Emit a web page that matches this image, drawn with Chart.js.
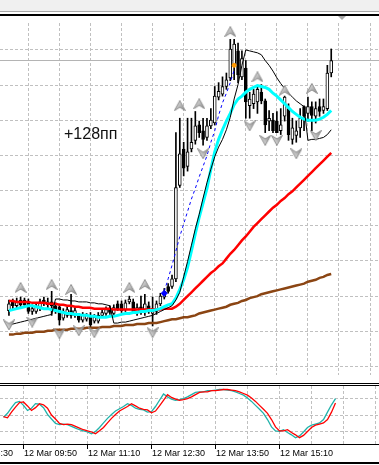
<!DOCTYPE html>
<html><head><meta charset="utf-8">
<script src="https://cdn.jsdelivr.net/npm/chart.js@4.4.1/dist/chart.umd.min.js"></script>
<style>
html,body{margin:0;padding:0;background:#fff;width:379px;height:465px;overflow:hidden;position:relative}
.abs{position:absolute;left:0}
#topbar{top:0;width:379px;height:11px;background:#f0f0f0}
#topline{top:11px;width:379px;height:1px;background:#a8a8a8}
#blk1{top:14px;width:379px;height:2px;background:#000}
#sep1{top:383px;width:379px;height:1px;background:#000}
#sep2{top:385px;width:379px;height:1px;background:#000}
#bot{top:462px;width:379px;height:2px;background:#000}
#main{top:16px}
#osc{top:386px}
#note{position:absolute;left:64px;top:126px;font:16px "Liberation Sans",Arial,sans-serif;line-height:16px;color:#111;white-space:nowrap}
#shift{position:absolute;left:338px;top:16px;width:0;height:0;border-left:4px solid transparent;border-right:4px solid transparent;border-top:4px solid #a8a8a8}
</style></head><body>
<div id="topbar" class="abs"></div><div id="topline" class="abs"></div><div id="blk1" class="abs"></div>
<canvas id="main" class="abs" width="379" height="366"></canvas>
<div id="sep1" class="abs"></div><div id="sep2" class="abs"></div>
<canvas id="osc" class="abs" width="379" height="79"></canvas>
<div id="bot" class="abs"></div>
<div id="note">+128пп</div>
<div id="shift"></div>
<script>
// ---- data (price in chart units, one value per 5-minute bar) ----
const barSlots = 94;               // bars incl. empty right shift
const firstBarTime = [9, 25];      // 12 Mar 09:25
const tickBars = [-11, 5, 21, 37, 53, 69];
const tickLabels = ['12 Mar 08:30', '12 Mar 09:50', '12 Mar 11:10', '12 Mar 12:30', '12 Mar 13:50', '12 Mar 15:10'];
const gridBars = [5, 13, 21, 29, 37, 45, 53, 61, 69, 77, 85, 93];
const priceGrid = [7, 43.6, 80.1, 116.7, 153.3, 189.8, 226.4, 262.9, 299.5, 336.0];
const levelLine = 325;
const oscLevels = [20, 50, 80];

const open = [65,74,70,76,76,74,64,64,67,76, 71,74,70,69,57,60,65,60,59,55, 56,60,54,54,60,62,67,62,72,72, 66,74,74,63,69,65,70,62,64,72,
  79,90,90,98,195,233,215,233,242,258, 252,245,257,260,287,290,298,307,320,335, 308,317,278,280,282,292,283,262,263,262,
  252,267,275,243,247,255,277,270,277,267, 277,273,275,312];
const high = [76,77,78,79,78,77,71,72,77,79, 78,85,73,71,67,69,82,68,62,63, 62,63,61,63,66,69,70,71,75,75, 76,80,77,72,80,82,74,79,75,83,
  88,93,102,250,265,240,265,265,272,262, 265,265,275,298,302,308,312,347,347,343, 335,325,292,295,298,300,285,273,270,272,
  275,288,280,265,262,275,278,287,282,282, 285,285,320,337];
const low = [60,67,68,69,68,62,61,62,65,70, 68,60,62,50,55,58,57,58,53,53, 54,48,52,52,58,60,61,60,65,63, 64,72,62,60,61,60,62,49,61,70,
  77,83,88,95,193,205,210,230,238,245, 237,242,254,258,284,288,295,304,305,302, 305,265,265,275,270,280,250,252,250,250,
  248,262,242,238,240,245,252,262,252,260, 267,270,273,308];
const close = [72,70,74,71,71,64,67,70,74,72, 74,70,65,55,64,66,60,65,55,60, 60,50,58,60,63,66,63,68,67,65, 73,77,64,68,63,72,65,67,72,80,
  83,85,98,193,228,213,230,240,257,250, 243,257,263,288,293,298,305,337,342,310, 327,282,285,290,295,283,258,265,252,250,
  258,287,248,255,252,265,267,277,268,275, 272,277,312,325];

const maRed = [75,75,74,74,74,74,73,73,73,73, 72,72,72,71,71,70,70,69,69,68, 68,68,67,67,67,67,67,66,66,66, 66,66,66,66,66,66,66,66,66,66,
  67,67,67,69,72,76,80,84,88,92, 96,100,104,107,111,114,119,124,128,133, 138,142,147,152,156,160,164,168,172,175,
  179,182,186,189,193,197,201,205,209,213, 217,221,225,229];
const maBrown = [40,40,41,41,42,42,42,43,43,43, 44,44,45,45,45,45,46,46,46,46, 47,47,47,47,48,48,48,49,49,49, 50,50,50,51,51,51,52,52,52,53,
  54,55,56,56,57,58,58,59,60,62, 63,64,65,66,67,68,69,71,72,73, 75,76,78,79,80,82,83,84,85,86,
  87,88,89,90,91,92,93,95,96,97, 99,100,102,103];
const maCyan = [65,66,67,68,69,70,70,69,68,67, 67,66,65,64,63,62,62,61,61,60, 60,59,59,58,58,58,59,59,60,61, 62,62,63,63,64,64,65,65,66,67,
  69,71,72,78,87,97,110,127,145,162, 177,192,212,230,243,253,262,270,279,285, 288,292,295,297,299,298,297,295,291,288,
  284,280,276,272,269,266,264,263,263,263, 264,266,269,273];
const trendLine = [50,51,52,53,54,55,56,57,58,59, 60,61,77,77,76,76,75,75,74,74, 74,73,73,72,72,71,70,52,52,53, 53,54,55,56,57,58,59,60,62,64,
  66,68,70,76,84,100,116,133,150,165, 182,198,212,225,235,243,253,266,285,300, 320,336,335,334,333,331,325,320,314,307,
  301,296,291,287,283,280,277,242,243,243, 244,245,248,253];
const blueStart = 40;
const blueLine = [85,98,112,127,142,155,168,181,192,204,215,226,240,252,268,281,291,302,315];

const fractalUpBars = [3,11,16,31,35,44,49,57,64,71,78];
const fractalUpVals = [89,92,87,89,92,278,280,355,308,294,296];
const fractalDnBars = [0,6,13,18,22,37,50,62,66,69,74,79];
const fractalDnVals = [50,53,41,44,42,42,228,257,242,242,228,247];
const blueMarkBar = 40, blueMarkVal = 83;
const orangeMarkBar = 58, orangeMarkVal = 320;

const stochMain = [46,53,63,72,74,67,58,62,70,69, 63,51,43,35,33,34,33,30,27,24, 22,20,17,21,28,36,44,51,57,61, 65,70,67,62,60,59,55,56,65,76,
  87,82,78,76,77,79,82,86,90,91, 91,93,93,94,95,95,94,93,91,88, 85,80,74,67,60,53,42,29,22,21,
  24,19,15,10,13,20,28,32,34,36, 42,55,68,79];
const stochSignal = [47,45,55,64,72,73,66,58,63,70, 68,62,50,43,35,33,34,33,30,27, 24,22,20,17,22,28,36,44,51,57, 61,65,70,66,62,60,59,54,57,66,
  76,86,81,78,76,77,79,82,86,90, 91,91,93,93,94,95,95,94,93,91, 88,85,80,74,67,60,53,42,29,22,
  22,24,19,15,10,14,21,28,32,34, 36,42,55,71];

// ---- helpers ----
const barTimes = [];
for (let i = 0; i < barSlots; i++) {
  const m = firstBarTime[0] * 60 + firstBarTime[1] + 5 * i;
  barTimes.push(String(Math.floor(m / 60) % 24).padStart(2, '0') + ':' + String(m % 60).padStart(2, '0'));
}
const sparse = (bars, vals) => { const a = new Array(barSlots).fill(null); bars.forEach((b, i) => a[b] = vals[i]); return a; };
const bodies = open.map((o, i) => [o, close[i]]);
const wicks = low.map((l, i) => [l, high[i]]);
const bodyColors = open.map((o, i) => close[i] >= o ? '#ffffff' : '#000000');
const blueData = new Array(blueStart).fill(null).concat(blueLine);

function makeArrow(up) {
  const c = document.createElement('canvas'); c.width = 12; c.height = 11;
  const g = c.getContext('2d');
  if (!up) { g.translate(0, 11); g.scale(1, -1); }
  const grd = g.createLinearGradient(0, 0, 12, 11);
  grd.addColorStop(0, '#f6f6f6'); grd.addColorStop(0.5, '#bdbdbd'); grd.addColorStop(1, '#7c7c7c');
  g.beginPath(); g.moveTo(6, 0.5); g.lineTo(11.5, 10.5); g.lineTo(6, 7); g.lineTo(0.5, 10.5); g.closePath();
  g.fillStyle = grd; g.fill();
  g.strokeStyle = '#8e8e8e'; g.lineWidth = 1; g.stroke();
  return c;
}
const upImg = makeArrow(true), dnImg = makeArrow(false);

const GRID = '#c0c0c0';
function drawVGrid(chart) {
  const {ctx, chartArea: a, scales: {x}} = chart;
  ctx.save(); ctx.strokeStyle = GRID; ctx.lineWidth = 1; ctx.setLineDash([3, 2]);
  ctx.beginPath();
  gridBars.forEach(k => { const px = Math.floor(x.getPixelForValue(k)) + 0.5; ctx.moveTo(px, a.top); ctx.lineTo(px, a.bottom); });
  ctx.stroke(); ctx.restore();
}
function drawHGrid(chart, vals) {
  const {ctx, chartArea: a, scales: {y}} = chart;
  ctx.save(); ctx.strokeStyle = GRID; ctx.lineWidth = 1; ctx.setLineDash([3, 2]);
  ctx.beginPath();
  vals.forEach(v => { const py = Math.floor(y.getPixelForValue(v)) + 0.5; ctx.moveTo(0, py); ctx.lineTo(chart.width, py); });
  ctx.stroke(); ctx.restore();
}
const mainGrid = {
  id: 'mainGrid',
  beforeDatasetsDraw(chart) {
    drawVGrid(chart); drawHGrid(chart, priceGrid);
    const {ctx, scales: {y}} = chart;
    const py = Math.floor(y.getPixelForValue(levelLine)) + 0.5;
    ctx.save(); ctx.strokeStyle = '#b4b4b4'; ctx.lineWidth = 1;
    ctx.beginPath(); ctx.moveTo(0, py); ctx.lineTo(chart.width, py); ctx.stroke(); ctx.restore();
  }
};
const oscGrid = {
  id: 'oscGrid',
  beforeDatasetsDraw(chart) { drawVGrid(chart); drawHGrid(chart, oscLevels); },
  afterDraw(chart) {
    const {ctx, chartArea: a, scales: {x}} = chart;
    ctx.save();
    ctx.strokeStyle = '#000'; ctx.lineWidth = 1;
    ctx.beginPath(); ctx.moveTo(0, a.bottom + 0.5); ctx.lineTo(chart.width, a.bottom + 0.5);
    tickBars.forEach(k => { const px = Math.floor(x.getPixelForValue(k)) + 0.5; ctx.moveTo(px, a.bottom); ctx.lineTo(px, a.bottom + 5); });
    ctx.stroke();
    ctx.fillStyle = '#000'; ctx.font = '9px "Liberation Sans", Arial, sans-serif';
    ctx.textAlign = 'left'; ctx.textBaseline = 'middle';
    tickBars.forEach((k, i) => { const px = Math.floor(x.getPixelForValue(k)) + 1; ctx.fillText(tickLabels[i], px, a.bottom + 10); });
    ctx.restore();
  }
};

const common = {
  responsive: false, animation: false, events: [],
  plugins: {legend: {display: false}, tooltip: {enabled: false}}
};

new Chart(document.getElementById('main'), {
  type: 'bar',
  data: {
    labels: barTimes,
    datasets: [
      {type: 'line', data: sparse(fractalUpBars, fractalUpVals), showLine: false, pointStyle: upImg, pointRadius: 6, order: 0},
      {type: 'line', data: sparse(fractalDnBars, fractalDnVals), showLine: false, pointStyle: dnImg, pointRadius: 6, order: 0},
      {type: 'line', data: sparse([blueMarkBar], [blueMarkVal]), showLine: false, pointStyle: 'rectRot', pointRadius: 3, backgroundColor: '#0000ff', borderColor: '#0000ff', order: 0},
      {type: 'line', data: sparse([orangeMarkBar], [orangeMarkVal]), showLine: false, pointStyle: 'circle', pointRadius: 2, backgroundColor: '#ff9900', borderColor: '#ff9900', order: 0},
      {type: 'line', data: blueData, borderColor: '#0000ff', borderWidth: 1, borderDash: [3, 3], pointRadius: 0, tension: 0, order: 1},
      {type: 'line', data: trendLine, borderColor: '#000000', borderWidth: 1, pointRadius: 0, tension: 0, order: 2},
      {type: 'line', data: maCyan, borderColor: '#00ffff', borderWidth: 3, pointRadius: 0, tension: 0, order: 3},
      {type: 'line', data: maRed, borderColor: '#ff0000', borderWidth: 2.5, pointRadius: 0, tension: 0, order: 4},
      {type: 'line', data: maBrown, borderColor: '#8b4513', borderWidth: 2.5, pointRadius: 0, tension: 0, order: 5},
      {type: 'bar', data: bodies, backgroundColor: bodyColors, borderColor: '#000', borderWidth: 1, borderSkipped: false, barThickness: 3, grouped: false, order: 10},
      {type: 'bar', data: wicks, backgroundColor: '#000', borderWidth: 0, barThickness: 1, grouped: false, order: 11}
    ]
  },
  options: Object.assign({}, common, {
    layout: {padding: {left: 1.5, right: 1.5, top: 0, bottom: 0}},
    scales: {
      x: {type: 'category', offset: true, display: false},
      y: {min: -2, max: 364, display: false}
    }
  }),
  plugins: [mainGrid]
});

new Chart(document.getElementById('osc'), {
  type: 'line',
  data: {
    labels: barTimes,
    datasets: [
      {data: stochMain, borderColor: '#20b2aa', borderWidth: 1.3, pointRadius: 0, tension: 0, order: 2},
      {data: stochSignal, borderColor: '#ff0000', borderWidth: 1.3, pointRadius: 0, tension: 0, order: 1}
    ]
  },
  options: Object.assign({}, common, {
    layout: {padding: {left: 1.5, right: 1.5, top: 0, bottom: 21}},
    scales: {
      x: {type: 'category', offset: true, display: false},
      y: {min: -1.2, max: 101.2, display: false}
    }
  }),
  plugins: [oscGrid]
});
</script>
</body></html>
